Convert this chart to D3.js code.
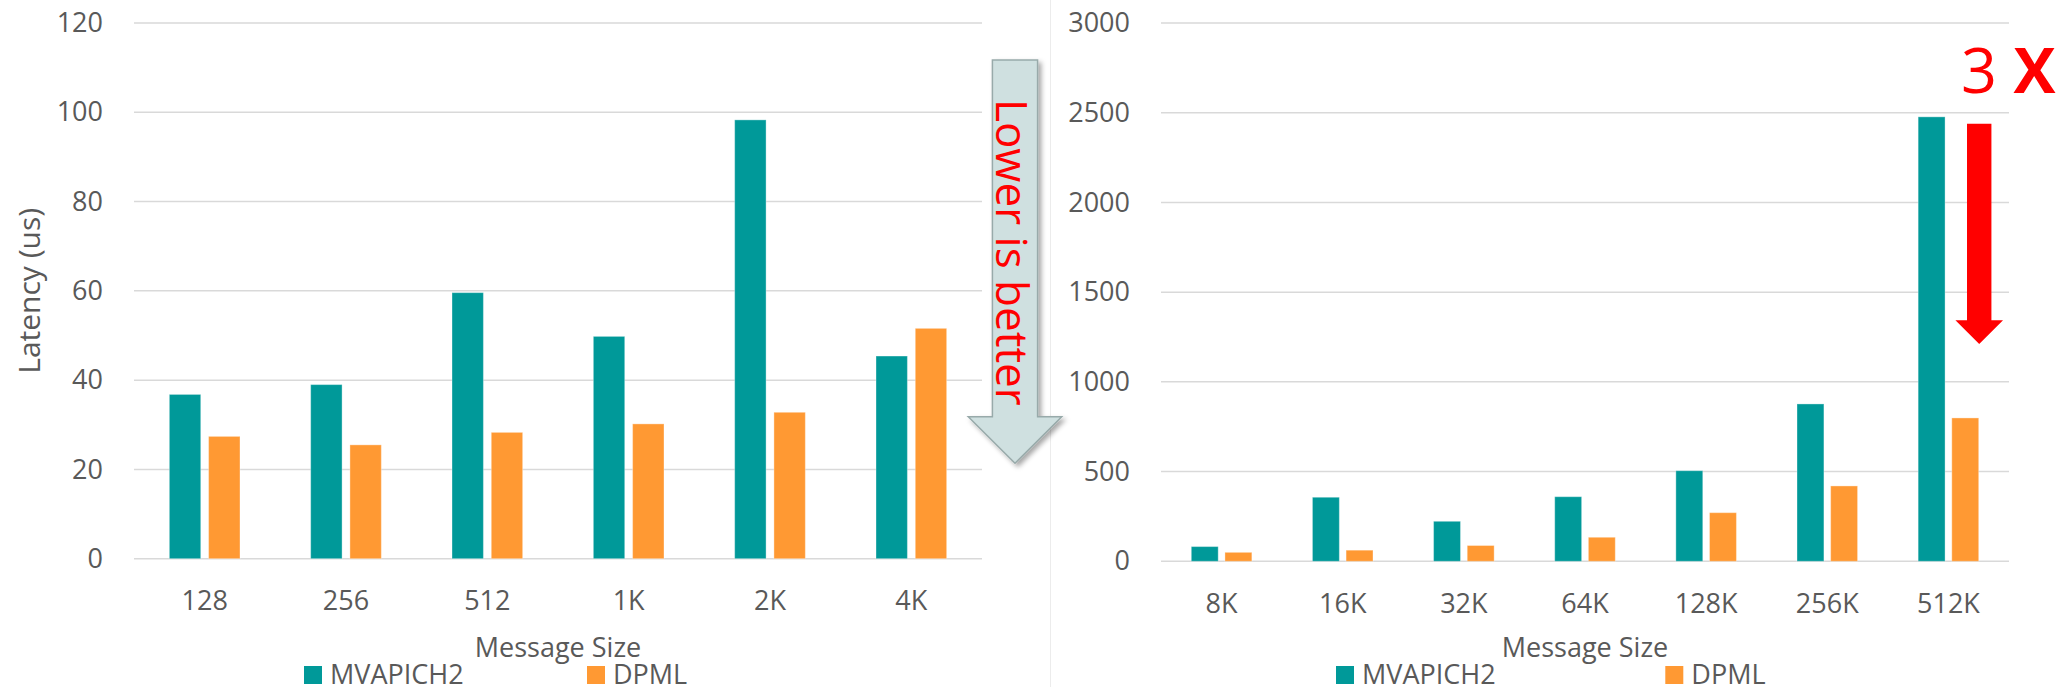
<!DOCTYPE html>
<html>
<head>
<meta charset="utf-8">
<script src="https://cdn.jsdelivr.net/npm/d3@7"></script>
<style>
  html, body { margin: 0; padding: 0; background: #ffffff; }
  svg { display: block; }
  text { font-family: "Open Sans", "Noto Sans", sans-serif; }
</style>
</head>
<body>
<svg id="chart" width="2058" height="687"></svg>
<script>
// ---------------- data ----------------
const categoriesLeft = ["128", "256", "512", "1K", "2K", "4K"];
const mvapichLeft    = [36.8, 39.0, 59.6, 49.8, 98.3, 45.4];
const dpmlLeft       = [27.4, 25.5, 28.3, 30.2, 32.8, 51.6];
const yTicksLeft     = [0, 20, 40, 60, 80, 100, 120];

const categoriesRight = ["8K", "16K", "32K", "64K", "128K", "256K", "512K"];
const mvapichRight    = [82, 357, 223, 360, 505, 877, 2477];
const dpmlRight       = [50, 62, 88, 134, 271, 420, 799];
const yTicksRight     = [0, 500, 1000, 1500, 2000, 2500, 3000];

const seriesNames  = ["MVAPICH2", "DPML"];
const seriesColors = ["#009999", "#ff9933"];

const xAxisTitle = "Message Size";
const yAxisTitle = "Latency (us)";
const noteLeft   = "Lower is better";
const noteRightNum = "3";
const noteRightX   = "X";

// ---------------- drawing ----------------
const svg = d3.select("#chart");
const TEXT = "#595959";
const GRID = "#d9d9d9";
const FS = 27;

const defs = svg.append("defs");
const f = defs.append("filter").attr("id", "shadow")
  .attr("x", "-20%").attr("y", "-20%").attr("width", "160%").attr("height", "160%");
f.append("feDropShadow").attr("dx", 3).attr("dy", 3).attr("stdDeviation", 2.5)
  .attr("flood-color", "#000").attr("flood-opacity", 0.35);

// faint separator between the two chart images
svg.append("line").attr("x1", 1050.5).attr("x2", 1050.5).attr("y1", 0).attr("y2", 687)
  .attr("stroke", "#ececec").attr("stroke-width", 1);

function drawPanel(cfg) {
  const { cats, vals, ticks, x0, x1, yTop, yBottom, yMax, legend } = cfg;
  const g = svg.append("g");

  const x = d3.scaleBand().domain(cats).range([x0, x1])
    .paddingInner(0.5).paddingOuter(0.25);
  const xs = d3.scaleBand().domain(seriesNames).range([0, x.bandwidth()])
    .paddingInner(0.2).paddingOuter(0);
  const y = d3.scaleLinear().domain([0, yMax]).range([yBottom, yTop]);

  // gridlines
  g.append("g").selectAll("line").data(ticks).join("line")
    .attr("x1", x0).attr("x2", x1)
    .attr("y1", d => y(d)).attr("y2", d => y(d))
    .attr("stroke", GRID).attr("stroke-width", 1.5);

  // y axis labels
  const ya = g.append("g")
    .call(d3.axisLeft(y).tickValues(ticks).tickFormat(d3.format("d")).tickSize(0).tickPadding(31))
    .attr("transform", `translate(${x0},0)`);
  ya.select(".domain").remove();
  ya.selectAll("text").attr("font-size", FS).attr("fill", TEXT)
    .style("font-family", '"Open Sans", sans-serif');

  // bars
  const rows = cats.map((c, i) => ({ cat: c, values: vals.map((v, s) => ({ s, v: v[i] })) }));
  g.append("g").selectAll("g").data(rows).join("g")
    .attr("transform", d => `translate(${x(d.cat)},0)`)
    .selectAll("rect").data(d => d.values).join("rect")
    .attr("x", d => xs(seriesNames[d.s]))
    .attr("width", xs.bandwidth())
    .attr("y", d => y(d.v))
    .attr("height", d => y(0) - y(d.v))
    .attr("fill", d => seriesColors[d.s])
    .attr("stroke", "#ffffff").attr("stroke-opacity", 0.35).attr("stroke-width", 1);

  // x axis labels
  const xa = g.append("g").call(d3.axisBottom(x).tickSize(0).tickPadding(0))
    .attr("transform", `translate(0,${yBottom})`);
  xa.select(".domain").remove();
  xa.selectAll("text").attr("dy", 0).attr("y", 51.5)
    .attr("font-size", FS).attr("fill", TEXT)
    .style("font-family", '"Open Sans", sans-serif');

  // x axis title
  g.append("text").attr("x", (x0 + x1) / 2).attr("y", 656.5)
    .attr("text-anchor", "middle").attr("font-size", FS).attr("fill", TEXT)
    .text(xAxisTitle);

  // legend
  legend.forEach((lx, s) => {
    g.append("rect").attr("x", lx).attr("y", 666).attr("width", 18).attr("height", 18)
      .attr("fill", seriesColors[s]);
    g.append("text").attr("x", lx + 26).attr("y", 683.5)
      .attr("font-size", FS).attr("fill", TEXT).text(seriesNames[s]);
  });

  return { x, xs, y };
}

const L = drawPanel({
  cats: categoriesLeft, vals: [mvapichLeft, dpmlLeft], ticks: yTicksLeft,
  x0: 134, x1: 982, yTop: 23, yBottom: 558.7, yMax: 120, legend: [304, 587]
});
const R = drawPanel({
  cats: categoriesRight, vals: [mvapichRight, dpmlRight], ticks: yTicksRight,
  x0: 1161, x1: 2009, yTop: 23, yBottom: 561.3, yMax: 3000, legend: [1336, 1665.3]
});

// y axis title (left chart)
svg.append("text")
  .attr("transform", `translate(40,${(23 + 558.7) / 2}) rotate(-90)`)
  .attr("text-anchor", "middle").attr("font-size", 30).attr("fill", TEXT)
  .text(yAxisTitle);

// ---------------- annotations ----------------
// "Lower is better" block arrow, next to the left plot
{
  const cx = 1015, shaftHalf = 22.6, headHalf = 46.7;
  const top = L.y(111.7), shoulder = L.y(31.8), tip = L.y(21.4);
  const p = d3.path();
  p.moveTo(cx - shaftHalf, top);
  p.lineTo(cx + shaftHalf, top);
  p.lineTo(cx + shaftHalf, shoulder);
  p.lineTo(cx + headHalf, shoulder);
  p.lineTo(cx, tip);
  p.lineTo(cx - headHalf, shoulder);
  p.lineTo(cx - shaftHalf, shoulder);
  p.closePath();
  svg.append("path").attr("d", p.toString())
    .attr("fill", "#cfe0e0").attr("stroke", "#98aaaa").attr("stroke-width", 1.5)
    .attr("filter", "url(#shadow)");
  svg.append("text")
    .attr("transform", `translate(996,${(101.7 + 403) / 2}) rotate(90)`)
    .attr("text-anchor", "middle").attr("font-size", 44).attr("fill", "#ff0000")
    .text(noteLeft);
}

// "3 X" red arrow at 512K
{
  const bx = R.x("512K") + R.x.bandwidth();
  const cx = bx + 0.5;
  const shaftHalf = 12.2, headHalf = 23.8;
  const top = R.y(2439), shoulder = R.y(1344), tip = R.y(1211);
  const p = d3.path();
  p.moveTo(cx - shaftHalf, top);
  p.lineTo(cx + shaftHalf, top);
  p.lineTo(cx + shaftHalf, shoulder);
  p.lineTo(cx + headHalf, shoulder);
  p.lineTo(cx, tip);
  p.lineTo(cx - headHalf, shoulder);
  p.lineTo(cx - shaftHalf, shoulder);
  p.closePath();
  svg.append("path").attr("d", p.toString()).attr("fill", "#ff0000");

  const t = svg.append("text").attr("x", 1961).attr("y", 93.3)
    .attr("font-size", 63).attr("fill", "#ff0000");
  t.append("tspan").attr("font-weight", 400).text(noteRightNum + " ");
  t.append("tspan").attr("font-weight", 700).text(noteRightX);
}
</script>
</body>
</html>
